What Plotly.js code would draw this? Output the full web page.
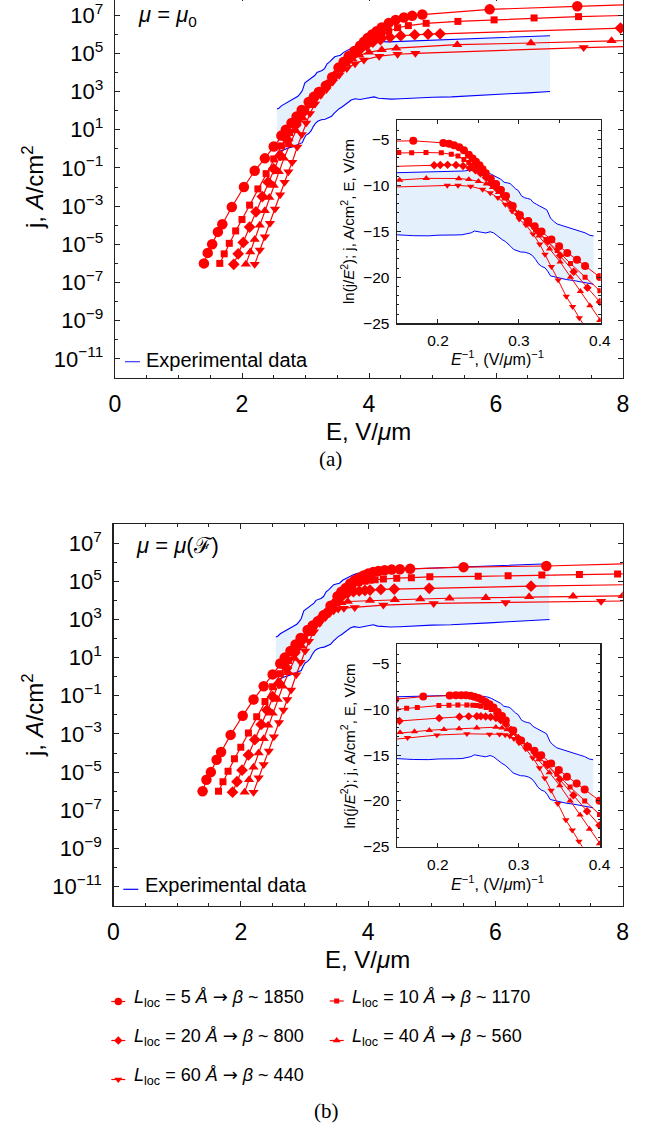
<!DOCTYPE html>
<html><head><meta charset="utf-8">
<script src="https://cdn.plot.ly/plotly-3.0.1.min.js"></script>
<style>html,body{margin:0;padding:0;background:#fff;overflow:hidden}#plot{position:absolute;left:0;top:-4px;width:660px;height:1132px}</style>
</head><body><div id="plot"></div>
<script>
// ---------- Experimental data (same in both panels): E (V/um), log10 j (A/cm^2)
const expUpperE = [2.55,2.58,2.62,2.67,2.72,2.77,2.82,2.88,2.92,2.95,2.99,3.03,3.07,3.11,3.15,3.18,3.22,3.26,3.30,3.34,3.38,3.42,3.46,3.50,3.55,3.60,3.65,3.70,3.76,3.82,3.90,3.96,4.03,4.10,4.18,4.30,4.45,4.60,4.83,5.10,5.50,5.80,6.16,6.50,6.85];
const expUpperLogJ = [2.08,2.12,2.25,2.35,2.45,2.55,2.62,2.75,2.90,3.05,3.45,3.55,3.62,3.75,3.85,4.00,4.05,4.10,4.20,4.45,4.55,4.70,4.82,4.86,4.90,5.05,5.15,5.25,5.33,5.40,5.45,5.52,5.55,5.58,5.62,5.60,5.62,5.64,5.66,5.70,5.76,5.80,5.83,5.87,5.92];
const expLowerE = [2.55,2.60,2.66,2.72,2.79,2.85,2.91,2.95,2.98,3.01,3.05,3.09,3.12,3.16,3.20,3.25,3.31,3.36,3.41,3.45,3.49,3.53,3.58,3.62,3.67,3.72,3.78,3.86,3.94,4.02,4.08,4.15,4.25,4.35,4.50,4.70,5.00,5.30,5.60,5.90,6.20,6.50,6.85];
const expLowerLogJ = [-0.20,-0.12,-0.04,0.03,0.10,0.18,0.25,0.32,0.55,0.72,0.80,0.95,1.15,1.35,1.45,1.52,1.55,1.62,1.70,1.85,2.00,2.10,2.20,2.30,2.45,2.55,2.62,2.58,2.63,2.70,2.72,2.65,2.62,2.60,2.62,2.66,2.70,2.72,2.76,2.82,2.88,2.93,3.00];

// ---------- Panel (a): mu = mu0
const aCircleE = [1.40,1.46,1.53,1.62,1.69,1.84,2.03,2.20,2.36,2.50,2.62,2.69,2.78,2.86,2.94,3.05,3.13,3.21,3.32,3.42,3.52,3.60,3.68,3.77,3.86,3.92,3.98,4.05,4.12,4.20,4.31,4.42,4.55,4.68,4.84,5.90,7.28,8.60];
const aCircleLogJ = [-6.00,-5.45,-5.00,-4.35,-3.95,-3.05,-2.00,-1.15,-0.50,0.12,0.69,1.00,1.35,1.69,2.03,2.45,2.72,2.98,3.30,3.75,4.25,4.55,4.85,5.12,5.40,5.60,5.80,5.98,6.15,6.35,6.58,6.75,6.87,6.96,7.03,7.30,7.46,7.60];
const aSquareE = [1.65,1.72,1.80,1.90,2.00,2.12,2.25,2.38,2.50,2.62,2.75,2.88,3.00,3.12,3.22,3.33,3.43,3.53,3.62,3.71,3.80,3.90,4.00,4.10,4.20,4.31,4.45,4.62,4.90,5.40,5.97,6.60,7.30,8.60];
const aSquareLogJ = [-6.00,-5.50,-4.95,-4.30,-3.70,-2.95,-2.10,-1.30,-0.53,0.15,0.85,1.50,2.05,2.55,2.92,3.30,3.78,4.25,4.60,4.90,5.15,5.40,5.62,5.82,5.98,6.15,6.34,6.45,6.57,6.67,6.75,6.85,6.92,7.03];
const aDiamondE = [1.87,1.94,2.02,2.12,2.22,2.32,2.41,2.50,2.60,2.72,2.85,2.98,3.10,3.22,3.34,3.45,3.56,3.66,3.76,3.86,3.96,4.06,4.18,4.33,4.50,4.72,4.93,5.12,7.96,9.00];
const aDiamondLogJ = [-6.05,-5.50,-4.90,-4.10,-3.30,-2.50,-1.75,-1.05,-0.35,0.45,1.25,1.95,2.50,2.95,3.35,3.80,4.25,4.60,4.92,5.20,5.42,5.58,5.72,5.84,5.92,5.97,6.00,6.02,6.32,6.42];
const aTriUpE = [2.06,2.13,2.20,2.28,2.36,2.43,2.50,2.58,2.66,2.75,2.85,2.96,3.08,3.20,3.32,3.43,3.54,3.64,3.74,3.85,4.00,4.20,4.43,5.39,6.55,7.82,9.00];
const aTriUpLogJ = [-6.05,-5.40,-4.75,-4.00,-3.25,-2.55,-1.92,-1.20,-0.50,0.20,0.95,1.60,2.25,2.80,3.25,3.70,4.12,4.45,4.70,4.90,5.05,5.18,5.27,5.45,5.54,5.66,5.75];
const aTriDownE = [2.20,2.28,2.36,2.44,2.52,2.60,2.67,2.73,2.79,2.87,2.94,3.01,3.07,3.15,3.24,3.33,3.43,3.53,3.65,3.78,3.92,4.16,4.45,4.73,7.38,8.60];
const aTriDownLogJ = [-6.05,-5.30,-4.60,-3.90,-3.15,-2.40,-1.75,-1.20,-0.70,0.10,0.75,1.35,1.85,2.35,2.80,3.10,3.50,3.85,4.20,4.45,4.65,4.85,4.95,5.00,5.30,5.40];

// ---------- Panel (b): mu = mu(F)
const bCircleE = [1.40,1.46,1.53,1.62,1.69,1.84,2.03,2.20,2.36,2.50,2.62,2.69,2.78,2.86,2.94,3.05,3.13,3.21,3.30,3.41,3.52,3.58,3.65,3.72,3.79,3.86,3.93,4.00,4.08,4.16,4.26,4.37,4.50,4.66,5.50,6.80,8.60];
const bCircleLogJ = [-6.00,-5.40,-5.00,-4.35,-3.95,-3.05,-2.05,-1.20,-0.50,0.12,0.69,1.00,1.35,1.69,2.03,2.45,2.68,2.90,3.22,3.72,4.22,4.45,4.65,4.88,5.05,5.18,5.30,5.40,5.48,5.54,5.58,5.61,5.63,5.65,5.74,5.80,5.97];
const bSquareE = [1.65,1.72,1.80,1.90,2.00,2.12,2.25,2.38,2.50,2.62,2.75,2.88,3.00,3.12,3.22,3.33,3.43,3.52,3.60,3.68,3.76,3.85,3.95,4.03,4.11,4.24,4.45,4.68,4.97,5.73,6.20,6.73,7.32,7.92,8.60];
const bSquareLogJ = [-6.00,-5.50,-4.95,-4.30,-3.70,-2.95,-2.10,-1.30,-0.53,0.15,0.85,1.50,2.05,2.55,2.92,3.28,3.72,4.10,4.40,4.62,4.80,4.92,5.00,5.05,5.08,5.12,5.16,5.19,5.23,5.26,5.29,5.33,5.35,5.38,5.42];
const bDiamondE = [1.87,1.94,2.02,2.12,2.22,2.32,2.41,2.50,2.60,2.72,2.85,2.98,3.10,3.22,3.34,3.44,3.52,3.60,3.68,3.77,3.86,3.95,4.03,4.20,4.41,4.96,6.56,8.60];
const bDiamondLogJ = [-6.05,-5.50,-4.90,-4.10,-3.30,-2.50,-1.75,-1.05,-0.35,0.45,1.25,1.95,2.50,2.95,3.35,3.75,4.05,4.25,4.38,4.45,4.49,4.52,4.54,4.57,4.59,4.63,4.74,4.85];
const bTriUpE = [2.06,2.13,2.20,2.28,2.36,2.43,2.50,2.58,2.66,2.75,2.85,2.96,3.08,3.20,3.32,3.42,3.50,3.58,3.68,4.03,4.42,4.82,5.28,5.85,6.53,7.22,8.00,8.60];
const bTriUpLogJ = [-6.05,-5.40,-4.75,-4.00,-3.25,-2.55,-1.92,-1.20,-0.50,0.20,0.95,1.60,2.25,2.80,3.22,3.58,3.78,3.88,3.94,3.99,4.03,4.07,4.11,4.14,4.19,4.21,4.24,4.26];
const bTriDownE = [2.20,2.28,2.36,2.44,2.52,2.60,2.67,2.73,2.79,2.87,2.94,3.01,3.07,3.15,3.24,3.33,3.40,3.46,3.53,3.62,3.79,4.24,5.03,6.16,7.66,8.60];
const bTriDownLogJ = [-6.05,-5.30,-4.60,-3.90,-3.15,-2.40,-1.75,-1.20,-0.70,0.10,0.75,1.35,1.85,2.35,2.80,3.10,3.33,3.46,3.54,3.59,3.63,3.75,3.84,3.89,3.95,3.99];

// ---------- Tick labels and legend text
const mainYTickExp = [-11,-9,-7,-5,-3,-1,1,3,5,7];
const mainXTicks = [0,2,4,6,8];
const insetXTicks = [0.2,0.3,0.4];
const insetYTicks = [-5,-10,-15,-20,-25];
const ARROW = '<span style="font-family:DejaVu Sans">→</span>';
const legendLabels = [
  '<i>L</i><sub>loc</sub> = 5 <i>Å</i> ' + ARROW + ' <i>β</i> ~ 1850',
  '<i>L</i><sub>loc</sub> = 10 <i>Å</i> ' + ARROW + ' <i>β</i> ~ 1170',
  '<i>L</i><sub>loc</sub> = 20 <i>Å</i> ' + ARROW + ' <i>β</i> ~ 800',
  '<i>L</i><sub>loc</sub> = 40 <i>Å</i> ' + ARROW + ' <i>β</i> ~ 560',
  '<i>L</i><sub>loc</sub> = 60 <i>Å</i> ' + ARROW + ' <i>β</i> ~ 440'
];

// ---------- helpers
const W = 660, H = 1132, OFF = 4;
const RED = '#ff0000', BLUE = '#0000ff', FILL = '#e4f1fc';
const FONT = 'Liberation Sans, Arial, sans-serif';
const toJ = L => L.map(v => Math.pow(10, v));
const invE = E => E.map(e => 1 / e);
const lnJE2 = (E, L) => L.map((l, i) => l * Math.LN10 - 2 * Math.log(E[i] * 1e4));
const px = x => x / W;
const py = y => 1 - (y + OFF) / H;

const symbols = ['circle','square','diamond','triangle-up','triangle-down'];
const mainSizes = [10.5,7,9,9,9];
const insetSizes = [8,5,6.5,6.5,6.5];
const panelA = [[aCircleE,aCircleLogJ],[aSquareE,aSquareLogJ],[aDiamondE,aDiamondLogJ],[aTriUpE,aTriUpLogJ],[aTriDownE,aTriDownLogJ]];
const panelB = [[bCircleE,bCircleLogJ],[bSquareE,bSquareLogJ],[bDiamondE,bDiamondLogJ],[bTriUpE,bTriUpLogJ],[bTriDownE,bTriDownLogJ]];

const traces = [];
function addPanel(series, xm, ym, xi, yi) {
  const bandE = expUpperE.concat(expLowerE.slice().reverse());
  const bandL = expUpperLogJ.concat(expLowerLogJ.slice().reverse());
  traces.push({x: bandE, y: toJ(bandL), xaxis: xm, yaxis: ym, type: 'scatter', mode: 'lines', fill: 'toself', fillcolor: FILL, line: {width: 0}, hoverinfo: 'skip'});
  traces.push({x: expUpperE, y: toJ(expUpperLogJ), xaxis: xm, yaxis: ym, mode: 'lines', line: {color: BLUE, width: 1.1}});
  traces.push({x: expLowerE, y: toJ(expLowerLogJ), xaxis: xm, yaxis: ym, mode: 'lines', line: {color: BLUE, width: 1.1}});
  series.forEach((s, k) => {
    traces.push({x: s[0], y: toJ(s[1]), xaxis: xm, yaxis: ym, mode: 'lines+markers',
      line: {color: RED, width: 1.2}, marker: {symbol: symbols[k], size: mainSizes[k], color: RED}});
  });
  traces.push({x: invE(bandE), y: lnJE2(bandE, bandL), xaxis: xi, yaxis: yi, mode: 'lines', fill: 'toself', fillcolor: FILL, line: {width: 0}, hoverinfo: 'skip'});
  traces.push({x: invE(expUpperE), y: lnJE2(expUpperE, expUpperLogJ), xaxis: xi, yaxis: yi, mode: 'lines', line: {color: BLUE, width: 1}});
  traces.push({x: invE(expLowerE), y: lnJE2(expLowerE, expLowerLogJ), xaxis: xi, yaxis: yi, mode: 'lines', line: {color: BLUE, width: 1}});
  series.forEach((s, k) => {
    traces.push({x: invE(s[0]), y: lnJE2(s[0], s[1]), xaxis: xi, yaxis: yi, mode: 'lines+markers',
      line: {color: RED, width: 1}, marker: {symbol: symbols[k], size: insetSizes[k], color: RED}});
  });
}
addPanel(panelA, 'x', 'y', 'x2', 'y2');
addPanel(panelB, 'x3', 'y3', 'x4', 'y4');

// legend symbols (overlay axis in pixel units)
const legX = [118.3, 336.7, 118.3, 336.7, 118.3];
const legY = [1001.5, 1001, 1040.5, 1040.5, 1079.5];
symbols.forEach((sym, k) => {
  traces.push({x: [legX[k]-7, legX[k]+7], y: [legY[k]+OFF, legY[k]+OFF], xaxis: 'x5', yaxis: 'y5', mode: 'lines', line: {color: RED, width: 1.2}});
  traces.push({x: [legX[k]], y: [legY[k]+OFF], xaxis: 'x5', yaxis: 'y5', mode: 'markers', marker: {symbol: sym, size: [7.5,5,6.5,7,7][k], color: RED}});
});

const tickFontMainY = {family: FONT, size: 22, color: '#000'};
const tickFontMainX = {family: FONT, size: 23, color: '#000'};
const tickFontInset = {family: FONT, size: 15.5, color: '#000'};
function mainX(dom, anchor) {
  return {domain: dom, anchor: anchor, range: [0, 8], showgrid: false, zeroline: false, showline: true, mirror: 'ticks',
    linecolor: '#222', linewidth: 1.3, ticks: 'inside', ticklen: 5, tickwidth: 1, tickcolor: '#222',
    tickmode: 'array', tickvals: mainXTicks, ticktext: mainXTicks.map(String), tickfont: tickFontMainX, ticklabelstandoff: 5,
    minor: {tickmode: 'array', tickvals: [0.5,1,1.5,2.5,3,3.5,4.5,5,5.5,6.5,7,7.5], ticklen: 3, ticks: 'inside', tickcolor: '#222'}};
}
function mainY(dom, anchor) {
  const minorV = []; for (let e = -12; e <= 8; e += 2) minorV.push(Math.pow(10, e));
  return {domain: dom, anchor: anchor, type: 'log', range: [-12, 8], showgrid: false, zeroline: false, showline: true, mirror: 'ticks',
    linecolor: '#222', linewidth: 1.3, ticks: 'inside', ticklen: 5, tickwidth: 1, tickcolor: '#222',
    tickmode: 'array', tickvals: mainYTickExp.map(e => Math.pow(10, e)),
    ticktext: mainYTickExp.map(e => '10<sup>' + String(e).replace('-', '−') + '</sup>'),
    tickfont: tickFontMainY, ticklabelstandoff: 6,
    minor: {tickmode: 'array', tickvals: minorV, ticklen: 3, ticks: 'inside', tickcolor: '#222'}};
}
function insetX(dom, anchor) {
  return {domain: dom, anchor: anchor, range: [0.149, 0.401], showgrid: false, zeroline: false, showline: true, mirror: 'ticks',
    linecolor: '#222', linewidth: 1.2, ticks: 'inside', ticklen: 4, tickcolor: '#222',
    tickmode: 'array', tickvals: insetXTicks, ticktext: insetXTicks.map(v => v.toFixed(1)), tickfont: tickFontInset, ticklabelstandoff: 3,
    minor: {tickmode: 'array', tickvals: [0.15,0.25,0.35], ticklen: 2.5, ticks: 'inside', tickcolor: '#222'}};
}
function insetY(dom, anchor) {
  const minorV = []; for (let v = -24; v <= -3; v++) if (v % 5 !== 0) minorV.push(v);
  return {domain: dom, anchor: anchor, range: [-25, -2.9], showgrid: false, zeroline: false, showline: true, mirror: 'ticks',
    linecolor: '#222', linewidth: 1.2, ticks: 'inside', ticklen: 4, tickcolor: '#222',
    tickmode: 'array', tickvals: insetYTicks, ticktext: insetYTicks.map(v => '−' + Math.abs(v)), tickfont: tickFontInset, ticklabelstandoff: 3,
    minor: {tickmode: 'array', tickvals: minorV, ticklen: 2.5, ticks: 'inside', tickcolor: '#222'}};
}

const ann = [];
function A(text, x, y, size, opts) {
  ann.push(Object.assign({text: text, x: px(x), y: py(y), xref: 'paper', yref: 'paper', showarrow: false,
    font: {family: FONT, size: size, color: '#000'}, xanchor: 'center', yanchor: 'middle'}, opts || {}));
}
const SERIF = {family: 'Liberation Serif, serif', size: 21, color: '#000'};
// panel (a)
A('<i>μ</i> = <i>μ</i><sub>0</sub>', 136, 16, 22, {xanchor: 'left'});
A('j, <i>A</i>/cm<sup>2</sup>', 33, 187, 24, {textangle: -90});
A('E, V/<i>μ</i>m', 368, 431, 24);
A('(a)', 331, 459, 21, {font: SERIF});
A('Experimental data', 144, 360, 20, {xanchor: 'left'});
A('ln(j/<i>E</i><sup>2</sup>); j, A/cm<sup>2</sup>, E, V/cm', 348, 221, 15, {textangle: -90});
A('<i>E</i><sup>−1</sup>, (V/<i>μ</i>m)<sup>−1</sup>', 497, 358, 16);
// panel (b)
A('<i>μ</i> = <i>μ</i>(ℱ)', 134, 545, 22, {xanchor: 'left'});
A('j, <i>A</i>/cm<sup>2</sup>', 33, 715, 24, {textangle: -90});
A('E, V/<i>μ</i>m', 367, 959, 24);
A('(b)', 326, 1111, 21, {font: SERIF});
A('Experimental data', 142.5, 885, 20, {xanchor: 'left'});
A('ln(j/<i>E</i><sup>2</sup>); j, A/cm<sup>2</sup>, E, V/cm', 348, 745.5, 15, {textangle: -90});
A('<i>E</i><sup>−1</sup>, (V/<i>μ</i>m)<sup>−1</sup>', 497, 882.5, 16);
// legend
legendLabels.forEach((t, k) => A(t, legX[k] + 13.5, legY[k] - 3.5, 18, {xanchor: 'left'}));

const shapes = [
  {type: 'rect', xref: 'x2', yref: 'y2', x0: 0.149, x1: 0.401, y0: -25, y1: -2.9, fillcolor: '#fff', line: {width: 0}, layer: 'below'},
  {type: 'rect', xref: 'x4', yref: 'y4', x0: 0.149, x1: 0.401, y0: -25, y1: -2.9, fillcolor: '#fff', line: {width: 0}, layer: 'below'},
  {type: 'line', xref: 'paper', yref: 'paper', x0: px(125), x1: px(140), y0: py(361.7), y1: py(361.7), line: {color: '#3a3aff', width: 1.2}},
  {type: 'line', xref: 'paper', yref: 'paper', x0: px(123.3), x1: px(138.3), y0: py(889.3), y1: py(889.3), line: {color: BLUE, width: 1.2}}
];

const layout = {
  width: W, height: H, margin: {l: 0, r: 0, t: 0, b: 0}, showlegend: false,
  paper_bgcolor: '#fff', plot_bgcolor: 'rgba(0,0,0,0)',
  font: {family: FONT, color: '#000'},
  xaxis: mainX([px(115), px(623)], 'y'),
  yaxis: mainY([1 - 382 / H, 1], 'x'),
  xaxis2: insetX([px(396.7), px(600.7)], 'y2'),
  yaxis2: insetY([py(323.3), py(120)], 'x2'),
  xaxis3: mainX([px(113.5), px(622.7)], 'y3'),
  yaxis3: mainY([py(905.7), py(524)], 'x3'),
  xaxis4: insetX([px(396.7), px(600.3)], 'y4'),
  yaxis4: insetY([py(846.7), py(644.3)], 'x4'),
  xaxis5: {domain: [0, 1], anchor: 'y5', range: [0, W], visible: false, fixedrange: true},
  yaxis5: {domain: [0, 1], anchor: 'x5', range: [H, 0], visible: false, fixedrange: true},
  annotations: ann, shapes: shapes
};
Plotly.newPlot('plot', traces, layout, {staticPlot: true, displayModeBar: false});
</script></body></html>
